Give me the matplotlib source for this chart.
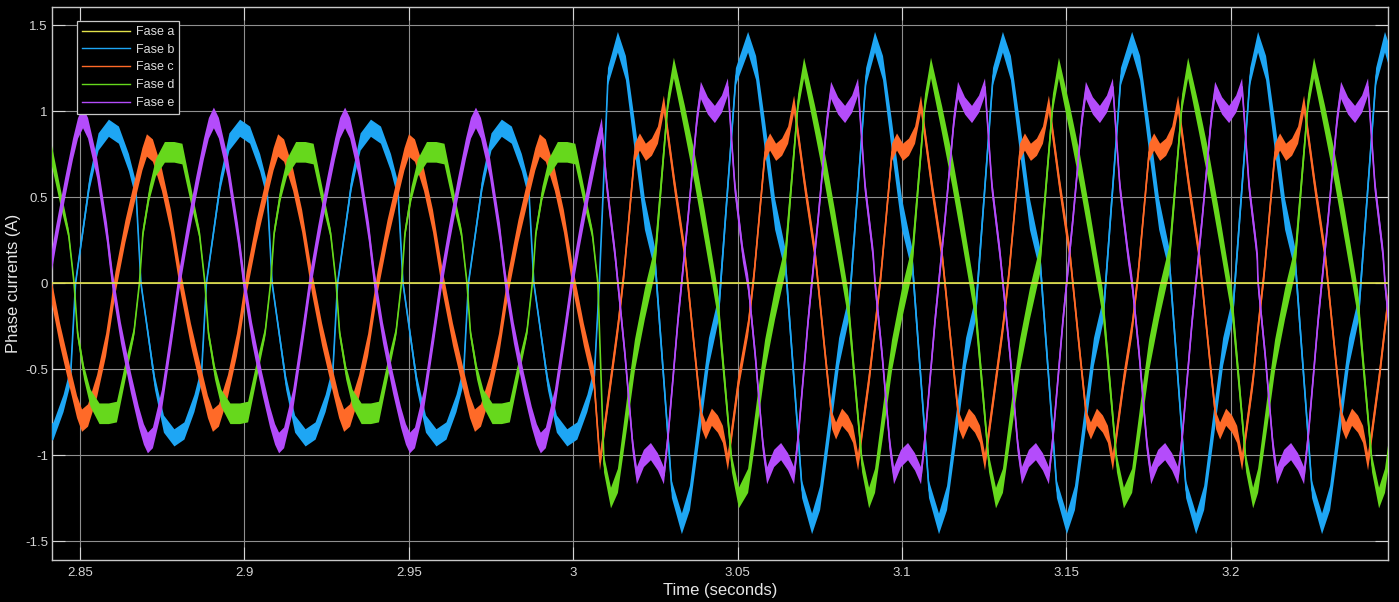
import numpy as np
import matplotlib.pyplot as plt

plt.rcParams['font.family'] = ['Liberation Sans', 'DejaVu Sans']

# instants of the Fase b peaks (s)
PRE_PEAKS = [2.8190, 2.8588, 2.8987, 2.9385, 2.9783]
POST_PEAKS = [2.9747, 3.0136, 3.0532, 3.0918, 3.1307, 3.1700, 3.2083, 3.2469]
SWITCH = {'b': 3.008, 'c': 3.008, 'd': 3.008, 'e': 3.010}

# one cycle of each phase current before the fault, ms after the Fase b peak
# *_R is the half height of the switching ripple seen at that point
B_PRE_MS = [0, 3.04, 6.08, 8.21, 9.73, 13.99, 16.73, 19.92, 22.96, 26.00, 28.13, 29.65, 33.91, 36.65]
B_PRE_A = [0.90, 0.86, 0.70, 0.54, 0.00, -0.58, -0.82, -0.90, -0.86, -0.70, -0.54, 0.00, 0.58, 0.82]
B_PRE_R = [0.05, 0.05, 0.05, 0.05, 0.02, 0.04, 0.05, 0.05, 0.05, 0.05, 0.05, 0.02, 0.04, 0.05]

C_PRE_MS = [0, 1.98, 5.02, 8.06, 10.19, 11.56, 13.38, 16.12, 18.86, 21.90, 24.94, 27.98, 30.11, 31.63,
            33.45, 36.19, 38.93]
C_PRE_A = [-0.25, 0.00, 0.30, 0.55, 0.72, 0.80, 0.77, 0.60, 0.36, 0.00, -0.30, -0.55, -0.72, -0.80,
           -0.77, -0.60, -0.36]
C_PRE_R = [0.065] * 17

D_PRE_MS = [0, 2.43, 5.17, 7.60, 9.28, 10.34, 12.32, 14.29, 17.03, 19.92, 22.35, 25.09, 27.52, 29.20,
            30.26, 32.24, 34.21, 36.95]
D_PRE_A = [-0.76, -0.75, -0.50, -0.29, 0.00, 0.29, 0.52, 0.67, 0.76, 0.76, 0.75, 0.50, 0.29, 0.00,
           -0.29, -0.52, -0.67, -0.76]
D_PRE_R = [0.06, 0.06, 0.05, 0.03, 0.01, 0.03, 0.04, 0.05, 0.06, 0.06, 0.06, 0.05, 0.03, 0.01,
           0.03, 0.04, 0.05, 0.06]

E_PRE_MS = [0, 1.22, 3.65, 6.69, 9.12, 10.64, 11.86, 13.38, 16.12, 19.16, 21.29, 23.72, 26.46, 28.89,
            30.41, 31.93, 33.45, 36.19, 39.23]
E_PRE_A = [0.19, 0.00, -0.29, -0.58, -0.78, -0.88, -0.93, -0.90, -0.68, -0.29, 0.00, 0.27, 0.55, 0.78,
           0.90, 0.96, 0.90, 0.67, 0.29]
E_PRE_R = [0.06] * 19

# one cycle of each phase current after the fault
B_POST_MS = [0, 2.43, 5.17, 8.21, 11.25, 16.42, 19.46, 21.90, 24.64, 27.68, 30.72, 35.89]
B_POST_A = [1.40, 1.25, 0.85, 0.40, 0.14, -1.20, -1.40, -1.25, -0.85, -0.40, -0.14, 1.20]
B_POST_R = [0.06, 0.07, 0.09, 0.09, 0.07, 0.05, 0.06, 0.07, 0.08, 0.08, 0.07, 0.05]

C_POST_MS = [0, 1.82, 5.17, 6.69, 8.52, 10.34, 12.17, 13.99, 17.34, 20.38, 23.42, 25.55, 26.76, 28.59,
             30.41, 31.93, 33.45, 36.80]
C_POST_A = [-0.26, 0.05, 0.76, 0.82, 0.76, 0.79, 0.86, 1.04, 0.56, 0.17, -0.41, -0.80, -0.86, -0.78,
            -0.82, -0.88, -1.04, -0.56]
C_POST_R = [0.05] * 18

D_POST_MS = [0, 3.04, 5.17, 8.21, 11.25, 15.21, 17.03, 20.38, 23.42, 26.46, 30.41, 34.67, 36.80]
D_POST_A = [-1.15, -0.72, -0.42, -0.12, 0.13, 1.05, 1.25, 0.95, 0.66, 0.33, -0.12, -1.05, -1.25]
D_POST_R = [0.07, 0.09, 0.09, 0.09, 0.08, 0.05, 0.06, 0.08, 0.09, 0.09, 0.08, 0.05, 0.06]

E_POST_MS = [0, 2.13, 4.56, 5.78, 7.91, 10.04, 12.17, 13.99, 15.21, 18.25, 21.29, 24.03, 25.24, 27.37,
             29.50, 31.63, 33.45, 35.58, 38.02]
E_POST_A = [0.00, -0.41, -0.95, -1.12, -1.02, -0.98, -1.04, -1.12, -0.90, -0.22, 0.37, 0.95, 1.12, 1.03,
            0.98, 1.04, 1.14, 0.56, 0.17]
E_POST_R = [0.05] * 19

# Fase a is open: flat zero
A_T = [2.80, 3.26]
A_VAL = [0.0, 0.0]

LABELS = ['Fase a', 'Fase b', 'Fase c', 'Fase d', 'Fase e']
COLORS = ['#e2e24a', '#1ea6f4', '#ff6a28', '#66d81c', '#b44cfb']
XTICKS = [2.85, 2.9, 2.95, 3.0, 3.05, 3.1, 3.15, 3.2]
XTICKLABELS = ['2.85', '2.9', '2.95', '3', '3.05', '3.1', '3.15', '3.2']
YTICKS = [-1.5, -1, -0.5, 0, 0.5, 1, 1.5]
YTICKLABELS = ['-1.5', '-1', '-0.5', '0', '0.5', '1', '1.5']


def cycles(peaks, offs, vals, rip, t0, t1):
    t, y, r = [], [], []
    for p in peaks:
        for o, v, w in zip(offs, vals, rip):
            tt = p + o / 1000.0
            if t0 <= tt < t1:
                t.append(tt)
                y.append(v)
                r.append(w)
    return t, y, r


def phase(key, pre, post):
    t1, y1, r1 = cycles(PRE_PEAKS, *pre, 2.80, SWITCH[key])
    t2, y2, r2 = cycles(POST_PEAKS, *post, SWITCH[key], 3.26)
    t = np.array(t1 + t2)
    y = np.array(y1 + y2)
    r = np.array(r1 + r2)
    idx = np.argsort(t)
    return t[idx], y[idx], r[idx]


series = [
    phase('b', (B_PRE_MS, B_PRE_A, B_PRE_R), (B_POST_MS, B_POST_A, B_POST_R)),
    phase('c', (C_PRE_MS, C_PRE_A, C_PRE_R), (C_POST_MS, C_POST_A, C_POST_R)),
    phase('d', (D_PRE_MS, D_PRE_A, D_PRE_R), (D_POST_MS, D_POST_A, D_POST_R)),
    phase('e', (E_PRE_MS, E_PRE_A, E_PRE_R), (E_POST_MS, E_POST_A, E_POST_R)),
]

fig = plt.figure(figsize=(13.99, 6.02), dpi=100, facecolor='black')
ax = fig.add_axes([0.0372, 0.0698, 0.9549, 0.9186], facecolor='black')

handles = []
for k, (t, y, r) in enumerate(series):
    col = COLORS[k + 1]
    ax.fill_between(t, y - r, y + r, color=col, lw=0, zorder=3 + k)
    ln, = ax.plot(t, y, color=col, lw=1.2, label=LABELS[k + 1], zorder=3 + k)
    handles.append(ln)

la, = ax.plot(A_T, A_VAL, color=COLORS[0], lw=1.2, label=LABELS[0], zorder=10)
handles.insert(0, la)

ax.set_xlim(2.8415, 3.2478)
ax.set_ylim(-1.61, 1.605)
ax.set_xticks(XTICKS)
ax.set_xticklabels(XTICKLABELS)
ax.set_yticks(YTICKS)
ax.set_yticklabels(YTICKLABELS)
ax.tick_params(direction='in', length=9.5, width=0.8, colors='#d6d6d6', top=True, right=True,
               labelsize=9.5)
ax.tick_params(axis='x', pad=5)
ax.tick_params(axis='y', pad=3)
ax.grid(True, color='#8f8f8f', lw=0.8)
ax.set_axisbelow(True)
for sp in ax.spines.values():
    sp.set_color('#c8c8c8')
    sp.set_linewidth(1.0)

ax.set_xlabel('Time (seconds)', color='#e6e6e6', fontsize=12, labelpad=3)
ax.set_ylabel('Phase currents (A)', color='#e6e6e6', fontsize=12, labelpad=3)

leg = ax.legend(handles=handles, loc='upper left', bbox_to_anchor=(0.0187, 0.9747),
                borderaxespad=0, fontsize=9, frameon=True, fancybox=False,
                handlelength=3.85, handletextpad=0.45, labelspacing=0.46,
                borderpad=0.4)
leg.get_frame().set_facecolor('black')
leg.get_frame().set_edgecolor('#c8c8c8')
leg.get_frame().set_linewidth(0.9)
leg.get_frame().set_alpha(1)
for txt in leg.get_texts():
    txt.set_color('#dcdcdc')
for lh in leg.get_lines():
    lh.set_linewidth(1.0)
leg.set_zorder(20)

fig.savefig('out.png', dpi=100, facecolor='black')
